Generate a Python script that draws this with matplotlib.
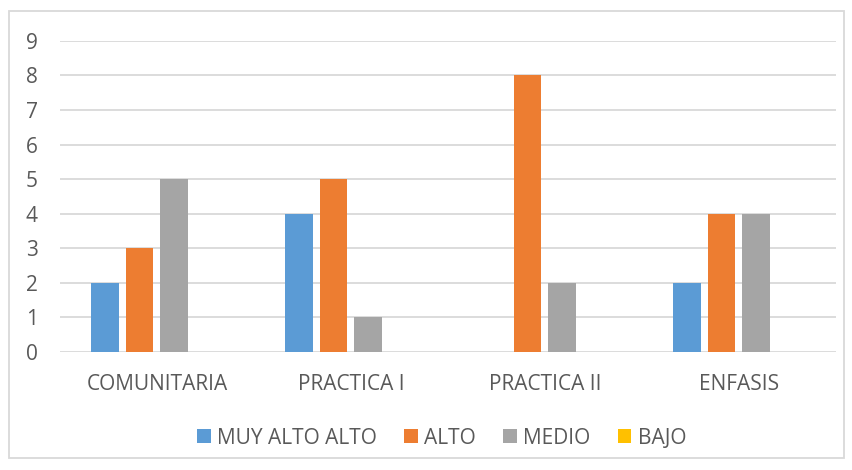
import numpy as np
import matplotlib.pyplot as plt
from matplotlib.patches import Rectangle

categories = ['COMUNITARIA', 'PRACTICA I', 'PRACTICA II', 'ENFASIS']
series = ['MUY ALTO ALTO', 'ALTO', 'MEDIO', 'BAJO']
muy_alto_alto = [2, 4, 0, 2]
alto = [3, 5, 8, 4]
medio = [5, 1, 2, 4]
bajo = [0, 0, 0, 0]
colors = ['#5b9bd5', '#ed7d31', '#a5a5a5', '#ffc000']

plt.rcParams['font.family'] = ['Open Sans', 'DejaVu Sans']

fig = plt.figure(figsize=(8.53, 4.70), dpi=100)
ax = fig.add_axes([0.0703, 0.251, 0.9097, 0.662])

x = np.arange(len(categories))
step = 0.18
width = 0.144
values = [muy_alto_alto, alto, medio, bajo]
for i, (name, vals) in enumerate(zip(series, values)):
    ax.bar(x + (i - 1.5) * step, vals, width, color=colors[i], label=name, zorder=3)

ax.set_xlim(-0.5, 3.5)
ax.set_ylim(0, 9)
ax.set_yticks(range(10))
ax.set_xticks(x)
ax.set_xticklabels(categories)
ax.grid(axis='y', color='#d9d9d9', linewidth=1.3, zorder=0)
for s in ax.spines.values():
    s.set_visible(False)
ax.tick_params(length=0, labelsize=15, colors='#595959')
ax.tick_params(axis='y', pad=16)
ax.tick_params(axis='x', pad=16)

leg = fig.legend(loc='center', bbox_to_anchor=(0.5176, 0.068), ncol=4, frameon=False,
                 fontsize=15, handlelength=0.67, handleheight=0.67,
                 handletextpad=0.3, columnspacing=1.3)
for t in leg.get_texts():
    t.set_color('#595959')

fig.patches.append(Rectangle((0.01, 0.025), 0.98, 0.952, transform=fig.transFigure,
                             fill=False, edgecolor='#d9d9d9', linewidth=1.3))

fig.savefig('out.png', dpi=100)
